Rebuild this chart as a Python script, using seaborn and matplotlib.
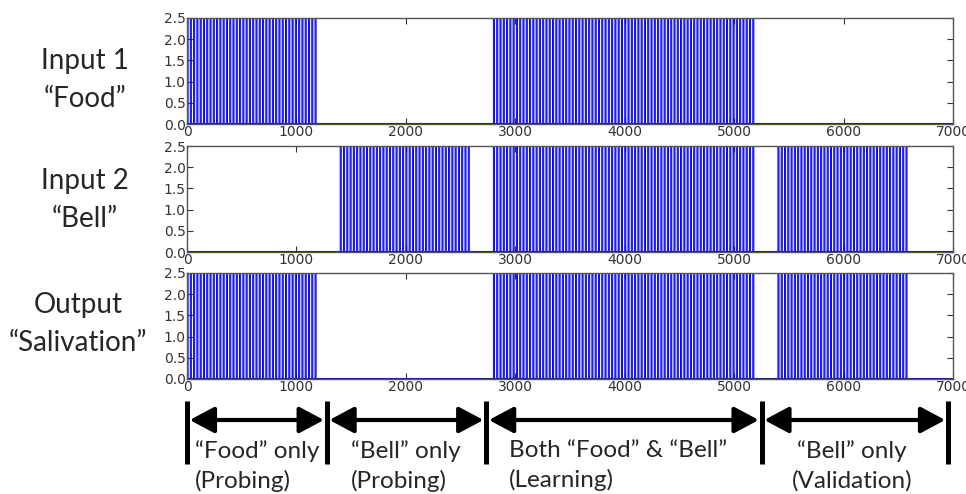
import numpy as np
import pandas as pd
import seaborn as sns
import matplotlib.pyplot as plt
from matplotlib.transforms import blended_transform_factory

# pulse trains (time in steps, value of each spike)
t_end = 6620
dt = 10
spike_period = 30
spike_height = 2.5
food_windows = [(0, 1200), (2800, 5200)]
bell_windows = [(1400, 2600), (2800, 5200), (5400, 6600)]
salivation_windows = [(0, 1200), (2800, 5200), (5400, 6600)]

row_labels = ["Input 1\n\u201cFood\u201d", "Input 2\n\u201cBell\u201d", "Output\n\u201cSalivation\u201d"]
x_ticks = [0, 1000, 2000, 3000, 4000, 5000, 6000, 7000]
y_ticks = [0.0, 0.5, 1.0, 1.5, 2.0, 2.5]

# phase annotation below the plots
phase_bounds = [0, 1276, 2734, 5250, 6954]
phase_texts = ["\u201cFood\u201d only\n(Probing)", "\u201cBell\u201d only\n(Probing)",
               "Both \u201cFood\u201d & \u201cBell\u201d\n(Learning)", "\u201cBell\u201d only\n(Validation)"]
phase_text_x = [73, 1495, 2944, 6079]
phase_text_ha = ["left", "left", "left", "center"]


def pulse_train(windows):
    t = np.arange(0, t_end + dt, dt)
    v = np.zeros(len(t))
    for a, b in windows:
        on = (t >= a) & (t < b) & ((t - a) % spike_period == 0)
        v[on] = spike_height
    return pd.DataFrame({"time": t, "value": v})


sns.set_style("ticks")
plt.rcParams["xtick.direction"] = "in"
plt.rcParams["ytick.direction"] = "in"

fig = plt.figure(figsize=(9.66, 4.94), dpi=100)
W, H = 966, 494
left, right = 187, 953
tops = [18, 146, 273]
ph = 106
label_x = [85, 85, 78]
label_y = [80, 200, 324]

axes = []
for i, win in enumerate([food_windows, bell_windows, salivation_windows]):
    ax = fig.add_axes([left / W, 1 - (tops[i] + ph) / H, (right - left) / W, ph / H])
    df = pulse_train(win)
    sns.lineplot(data=df, x="time", y="value", ax=ax, color="blue", lw=0.7,
                 estimator=None, drawstyle="steps-post")
    ax.axhline(0, color="#1a1a99", lw=1.5)
    ax.set_xlim(0, 7000)
    ax.set_ylim(0, 2.5)
    ax.set_xticks(x_ticks)
    ax.set_yticks(y_ticks)
    ax.set_yticklabels([f"{v:.1f}" for v in y_ticks])
    ax.set_xlabel("")
    ax.set_ylabel("")
    ax.tick_params(labelsize=10, colors="#333333", length=4, top=True, right=True, pad=1)
    for s in ax.spines.values():
        s.set_color("#555555")
        s.set_linewidth(1)
    fig.text(label_x[i] / W, 1 - label_y[i] / H, row_labels[i], ha="center", va="center",
             fontsize=20, family="Lato", linespacing=1.6)
    axes.append(ax)

ax = axes[-1]
tr = blended_transform_factory(ax.transData, fig.transFigure)
for i, b in enumerate(phase_bounds):
    ax.plot([b, b], [1 - 401 / H, 1 - 464 / H], color="black", lw=3.6, transform=tr, clip_on=False,
            solid_capstyle="butt")
for a, b in zip(phase_bounds[:-1], phase_bounds[1:]):
    ax.annotate("", xy=(b - 25, 1 - 420 / H), xytext=(a + 25, 1 - 420 / H), xycoords=tr, textcoords=tr,
                arrowprops=dict(arrowstyle="<|-|>,head_length=1.5,head_width=0.8", color="black", lw=3,
                                shrinkA=0, shrinkB=0))
for x, txt, ha in zip(phase_text_x, phase_texts, phase_text_ha):
    ax.text(x, 1 - 440 / H, txt, transform=tr, ha=ha, va="top", fontsize=17.5, family="Lato",
            multialignment=ha, linespacing=1.45, clip_on=False)

fig.savefig("out.png", dpi=100)
